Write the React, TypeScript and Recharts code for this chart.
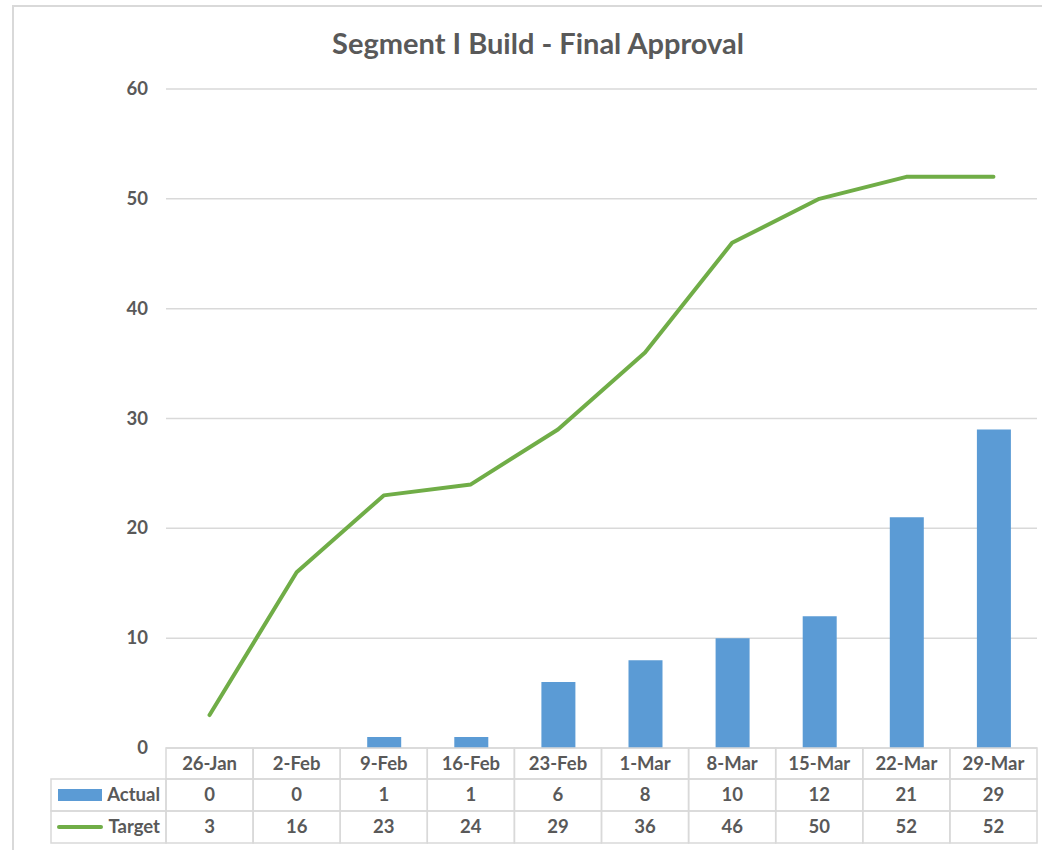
import {
  Bar,
  CartesianGrid,
  ComposedChart,
  Line,
  XAxis,
  YAxis,
} from 'recharts';

const categories = ['26-Jan', '2-Feb', '9-Feb', '16-Feb', '23-Feb', '1-Mar', '8-Mar', '15-Mar', '22-Mar', '29-Mar'];
const actual = [0, 0, 1, 1, 6, 8, 10, 12, 21, 29];
const target = [3, 16, 23, 24, 29, 36, 46, 50, 52, 52];
const yTicks = [0, 10, 20, 30, 40, 50, 60];

const data = categories.map((date, i) => ({ date, actual: actual[i], target: target[i] }));

const WIDTH = 1042;
const HEIGHT = 850;
const AXIS_W = 166;
const RIGHT = 5;
const TOP = 89;
const TABLE_H = 95;
const BOTTOM = 7;
const CELL_W = (WIDTH - AXIS_W - RIGHT) / categories.length;
const TABLE_TOP = HEIGHT - BOTTOM - TABLE_H;
const ROWS = [TABLE_TOP, TABLE_TOP + 31, TABLE_TOP + 63, TABLE_TOP + 95];

const TEXT = '#595959';
const GRID = '#D9D9D9';
const BLUE = '#5B9BD5';
const GREEN = '#70AD47';
const FONT = 'Lato, "Open Sans", sans-serif';
const FS = 18.5;

function YTick({ y, payload }: { y?: number; payload?: { value: number } }) {
  return (
    <text x={148} y={y} dy={6} textAnchor="end" fill={TEXT} fontSize={FS} fontWeight={700} fontFamily={FONT}>
      {payload?.value}
    </text>
  );
}

function TableTick({ x, payload }: { x?: number; payload?: { value: string } }) {
  const i = categories.indexOf(payload?.value ?? '');
  if (i < 0 || x === undefined) {
    return null;
  }
  const left = x - CELL_W / 2;
  const cells = [categories[i], String(actual[i]), String(target[i])];
  return (
    <g fontFamily={FONT} fontSize={FS} fontWeight={700} fill={TEXT}>
      {cells.map((txt, r) => (
        <g key={r}>
          <rect x={left} y={ROWS[r]} width={CELL_W} height={ROWS[r + 1] - ROWS[r]} fill="none" stroke={GRID} strokeWidth={1.5} />
          <text x={x} y={(ROWS[r] + ROWS[r + 1]) / 2} dy={6} textAnchor="middle" stroke="none">
            {txt}
          </text>
        </g>
      ))}
      {i === 0 && (
        <g>
          <rect x={51} y={ROWS[1]} width={left - 51} height={ROWS[2] - ROWS[1]} fill="none" stroke={GRID} strokeWidth={1.5} />
          <rect x={51} y={ROWS[2]} width={left - 51} height={ROWS[3] - ROWS[2]} fill="none" stroke={GRID} strokeWidth={1.5} />
          <rect x={58} y={ROWS[1] + 10} width={44} height={12} fill={BLUE} />
          <line x1={59} x2={101} y1={(ROWS[2] + ROWS[3]) / 2} y2={(ROWS[2] + ROWS[3]) / 2} stroke={GREEN} strokeWidth={4} strokeLinecap="round" />
          <text x={160} y={(ROWS[1] + ROWS[2]) / 2} dy={6} textAnchor="end">Actual</text>
          <text x={160} y={(ROWS[2] + ROWS[3]) / 2} dy={6} textAnchor="end">Target</text>
        </g>
      )}
    </g>
  );
}

export default function App() {
  return (
    <div style={{ position: 'absolute', left: 0, top: 0, width: WIDTH, height: HEIGHT, overflow: 'hidden', background: '#fff' }}>
      <div style={{ position: 'absolute', left: 12, top: 5, width: WIDTH + 40, height: HEIGHT + 40, border: `2px solid ${GRID}` }} />
      <div
        style={{
          position: 'absolute',
          left: 0,
          top: 25,
          width: 1076,
          textAlign: 'center',
          fontFamily: FONT,
          fontWeight: 700,
          fontSize: 29,
          color: TEXT,
        }}
      >
        Segment I Build - Final Approval
      </div>
      <div style={{ position: 'absolute', left: 0, top: 0 }}>
        <ComposedChart width={WIDTH} height={HEIGHT} data={data} margin={{ top: TOP, right: RIGHT, bottom: BOTTOM, left: 0 }}>
          <CartesianGrid vertical={false} stroke={GRID} strokeWidth={1.5} />
          <XAxis dataKey="date" height={TABLE_H} axisLine={false} tickLine={false} interval={0} tick={<TableTick />} />
          <YAxis
            width={AXIS_W}
            domain={[0, 60]}
            ticks={yTicks}
            axisLine={false}
            tickLine={false}
            tick={<YTick />}
          />
          <Bar dataKey="actual" fill={BLUE} barSize={34} isAnimationActive={false} />
          <Line
            dataKey="target"
            stroke={GREEN}
            strokeWidth={4}
            strokeLinecap="round"
            strokeLinejoin="round"
            dot={false}
            activeDot={false}
            isAnimationActive={false}
          />
        </ComposedChart>
      </div>
    </div>
  );
}
